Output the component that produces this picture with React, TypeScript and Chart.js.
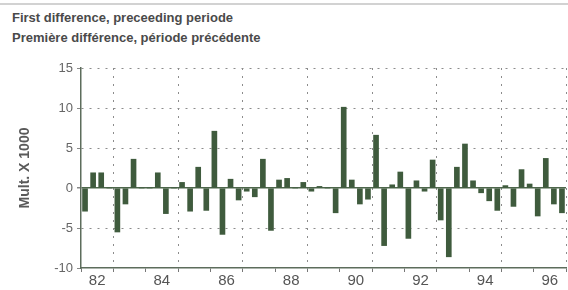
import React, { useEffect, useRef } from 'react';
import { Chart, registerables } from 'chart.js';

Chart.register(...registerables);

const years = [1982, 1983, 1984, 1985, 1986, 1987, 1988, 1989, 1990, 1991, 1992, 1993, 1994, 1995, 1996];
const quarters = ['Q1', 'Q2', 'Q3', 'Q4'];
const periods = years.flatMap((y) => quarters.map((q) => `${y} ${q}`));

const firstDifference = [
  -2.9, 1.9, 1.9, 0, -5.5, -2.0, 3.6, 0,
  0, 1.9, -3.2, 0, 0.7, -2.9, 2.6, -2.8,
  7.1, -5.8, 1.1, -1.5, -0.4, -1.1, 3.6, -5.3,
  1.0, 1.2, 0, 0.7, -0.4, 0.2, 0, -3.1,
  10.1, 1.0, -2.0, -1.4, 6.6, -7.2, 0.4, 2.0,
  -6.3, 0.9, -0.4, 3.5, -4.0, -8.6, 2.6, 5.5,
  0.9, -0.6, -1.6, -2.8, 0.3, -2.3, 2.3, 0.5,
  -3.5, 3.7, -2.0, -3.1,
];

const yTicks = [-10, -5, 0, 5, 10, 15];
const xTickYears = [1982, 1984, 1986, 1988, 1990, 1992, 1994, 1996];
const xTickLabels = ['82', '84', '86', '88', '90', '92', '94', '96'];
const titleLines = ['First difference, preceeding periode', 'Première différence, période précédente'];
const yAxisTitle = 'Mult. X 1000';

const FONT = "'Liberation Sans', Arial, Helvetica, sans-serif";
const BAR = '#3f5b3d';
const AXIS = '#5d6d5c';
const GRID = '#8c8c8c';
const NONE = 'rgba(0,0,0,0)';

export default function App() {
  const ref = useRef<HTMLCanvasElement | null>(null);

  useEffect(() => {
    if (!ref.current) return;
    const firstYear = years[0];
    const lastYear = years[years.length - 1] + 1;
    const chart = new Chart(ref.current, {
      type: 'bar',
      data: {
        labels: periods,
        datasets: [
          {
            data: firstDifference,
            backgroundColor: BAR,
            borderWidth: 0,
            barThickness: 5,
            xAxisID: 'x',
            yAxisID: 'y',
          },
        ],
      },
      options: {
        animation: false,
        responsive: false,
        devicePixelRatio: 1,
        layout: { padding: { top: 68, right: 2, left: 0, bottom: 0 } },
        plugins: {
          legend: { display: false },
          tooltip: { enabled: false },
          title: { display: false },
        },
        scales: {
          x: {
            type: 'category',
            display: false,
            offset: true,
          },
          years: {
            type: 'linear',
            position: 'bottom',
            axis: 'x',
            offset: false,
            min: firstYear,
            max: lastYear,
            afterBuildTicks: (s: any) => {
              const t: any[] = [];
              for (let v = firstYear; v <= lastYear + 1e-9; v += 0.5) t.push({ value: v });
              s.ticks = t;
            },
            afterFit: (s: any) => {
              s.height = 22;
            },
            ticks: {
              autoSkip: false,
              maxRotation: 0,
              minRotation: 0,
              padding: 0,
              color: '#555',
              font: { family: FONT, size: 15 },
              callback: (v: any) => {
                const val = Number(v);
                if (Math.abs(val - Math.floor(val) - 0.5) > 1e-6) return '';
                const idx = xTickYears.indexOf(Math.floor(val));
                return idx >= 0 ? xTickLabels[idx] : '';
              },
            },
            grid: {
              offset: false,
              drawOnChartArea: true,
              lineWidth: 1,
              tickLength: 4,
              tickBorderDash: [],
              color: (ctx: any) => {
                const v = ctx.tick ? ctx.tick.value : 0;
                if (Math.abs(v - Math.round(v)) > 1e-6) return NONE;
                const y = Math.round(v);
                return y % 2 === 1 ? GRID : NONE;
              },
              tickColor: (ctx: any) => {
                const v = ctx.tick ? ctx.tick.value : 0;
                if (Math.abs(v - Math.round(v)) > 1e-6) return NONE;
                return '#777';
              },
            },
            border: {
              display: true,
              color: AXIS,
              width: 1.5,
              dash: (ctx: any) => (ctx.tick ? [2, 6] : []),
            },
          },
          y: {
            type: 'linear',
            min: -10,
            max: 15,
            afterBuildTicks: (s: any) => {
              s.ticks = yTicks.map((v) => ({ value: v }));
            },
            afterFit: (s: any) => {
              s.width = 81;
            },
            ticks: {
              padding: 4,
              color: '#666',
              font: { family: FONT, size: 13 },
            },
            grid: {
              tickLength: 4,
              tickColor: '#888',
              tickBorderDash: [],
              color: (ctx: any) => {
                const v = ctx.tick ? ctx.tick.value : 0;
                if (v === 0) return '#4d664b';
                if (v === -10) return NONE;
                return GRID;
              },
              lineWidth: (ctx: any) => (ctx.tick && ctx.tick.value === 0 ? 1.5 : 1),
            },
            border: {
              display: true,
              color: AXIS,
              width: 1.5,
              dash: (ctx: any) => (!ctx.tick || ctx.tick.value === 0 ? [] : [2, 6]),
            },
            title: {
              display: true,
              text: yAxisTitle,
              color: '#5a5a5a',
              font: { family: FONT, size: 14, weight: 'bold' },
              padding: { top: 17, bottom: 0 },
            },
          },
        },
      },
    } as any);
    return () => chart.destroy();
  }, []);

  return (
    <div
      style={{
        position: 'fixed',
        left: 0,
        top: 0,
        width: 568,
        height: 290,
        background: '#fff',
        overflow: 'hidden',
      }}
    >
      <div
        style={{
          position: 'absolute',
          left: 0,
          top: 3,
          width: 568,
          height: 2,
          background: '#d2d2d2',
        }}
      />
      <div
        style={{
          position: 'absolute',
          left: 12,
          top: 8,
          fontFamily: FONT,
          fontWeight: 'bold',
          fontSize: 13,
          lineHeight: '20px',
          color: '#4a4a4a',
          whiteSpace: 'nowrap',
        }}
      >
        {titleLines.map((t) => (
          <div key={t}>{t}</div>
        ))}
      </div>
      <canvas ref={ref} width={568} height={290} style={{ position: 'absolute', left: 0, top: 0 }} />
    </div>
  );
}
